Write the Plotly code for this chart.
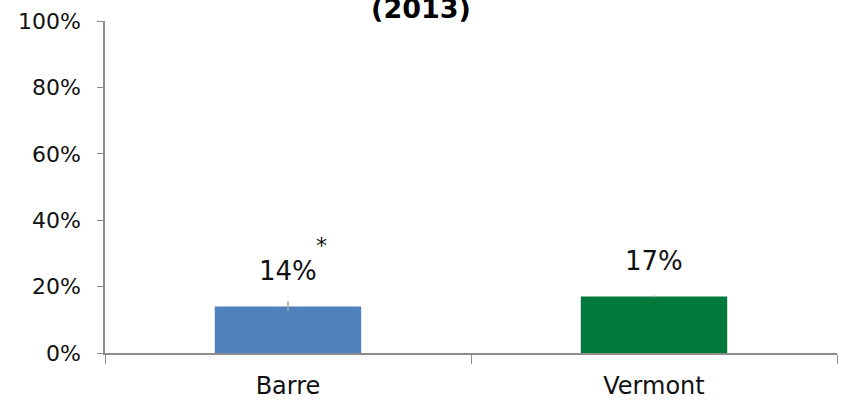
import plotly.graph_objects as go

categories = ["Barre", "Vermont"]
values = [0.14, 0.17]
err_plus = [0.017, 0.003]
err_minus = [0.012, 0.003]
labels = ["14%", "17%"]
flags = ["*", ""]
colors = ["#4F81BD", "#00793A"]
y_ticks = [0, 0.2, 0.4, 0.6, 0.8, 1.0]

FONT = "'DejaVu Sans', sans-serif"

fig = go.Figure(go.Bar(
    x=categories,
    y=values,
    width=0.4,
    marker_color=colors,
    marker_line_width=0,
    error_y=dict(type="data", symmetric=False, array=err_plus, arrayminus=err_minus,
                 color="#A6A6A6", thickness=1.5, width=0),
    hoverinfo="skip",
))

# value labels sit well above the bars
for cat, v, lab in zip(categories, values, labels):
    fig.add_annotation(x=cat, y=v, text=lab, showarrow=False, yanchor="middle", yshift=36,
                       font=dict(size=26, color="#111"))

for cat, v, f in zip(categories, values, flags):
    if f:
        fig.add_annotation(x=cat, y=v, text=f, showarrow=False, yanchor="middle",
                           xshift=33, yshift=61, font=dict(size=22, color="#111"))

fig.update_layout(
    width=842, height=400,
    margin=dict(l=105, r=5, t=21, b=47),
    paper_bgcolor="white",
    plot_bgcolor="white",
    font=dict(family=FONT, color="#111"),
    showlegend=False,
    # title runs off the top of the picture, only "(2013)" is left in view
    title=dict(text="<b>(2013)</b>", x=0.5, xref="container", xanchor="center",
               y=0.979, yref="container", yanchor="middle",
               font=dict(size=27, color="#000")),
)

fig.update_xaxes(
    showline=True, linecolor="#8C8C8C", linewidth=1.5,
    ticks="outside", tickson="boundaries", ticklen=9, tickcolor="#8C8C8C",
    tickfont=dict(size=24, color="#111"), ticklabelstandoff=10, showgrid=False,
    automargin=False,
)
fig.update_yaxes(
    range=[0, 1], tickvals=y_ticks, tickformat=".0%",
    showline=True, linecolor="#8C8C8C", linewidth=1.5,
    ticks="outside", ticklen=6, tickcolor="#8C8C8C", ticklabelstandoff=12,
    tickfont=dict(size=22, color="#111"), showgrid=False, zeroline=False,
    automargin=False,
)

# drop the page's default body margin so the figure fills the window exactly
fig.write_html("out.html", config={"displayModeBar": False},
               post_script="document.body.style.margin='0';document.body.style.overflow='hidden';")
